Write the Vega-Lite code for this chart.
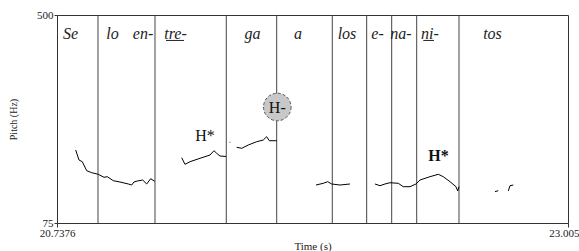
{
  "$schema": "https://vega.github.io/schema/vega-lite/v6.json",
  "width": 511,
  "height": 208,
  "autosize": {"type": "none"},
  "padding": {"left": 57, "top": 15, "right": 11, "bottom": 28},
  "background": "white",
  "config": {
    "view": {"stroke": "#333333", "strokeWidth": 1},
    "font": "Liberation Serif",
    "axis": {"grid": false, "domain": false, "labelFont": "Liberation Serif", "titleFont": "Liberation Serif", "titleFontWeight": "normal", "labelColor": "#222", "titleColor": "#222", "tickColor": "#333"}
  },
  "datasets": {
    "pitch": [
      {"seg": 1, "t": 20.8206, "hz": 224.1},
      {"seg": 1, "t": 20.8352, "hz": 203.7},
      {"seg": 1, "t": 20.8499, "hz": 200.2},
      {"seg": 1, "t": 20.8694, "hz": 181.8},
      {"seg": 1, "t": 20.8916, "hz": 177.8},
      {"seg": 1, "t": 20.9208, "hz": 174.5},
      {"seg": 1, "t": 20.9461, "hz": 168.4},
      {"seg": 1, "t": 20.9608, "hz": 169.6},
      {"seg": 1, "t": 20.9874, "hz": 161.4},
      {"seg": 1, "t": 21.0171, "hz": 158.8},
      {"seg": 1, "t": 21.054, "hz": 154.7},
      {"seg": 1, "t": 21.069, "hz": 152.6},
      {"seg": 1, "t": 21.0792, "hz": 158.8},
      {"seg": 1, "t": 21.0939, "hz": 160.8},
      {"seg": 1, "t": 21.1179, "hz": 162.8},
      {"seg": 1, "t": 21.1356, "hz": 154.7},
      {"seg": 1, "t": 21.1533, "hz": 165.5},
      {"seg": 1, "t": 21.1711, "hz": 160.2},
      {"seg": 2, "t": 21.2909, "hz": 208.4},
      {"seg": 2, "t": 21.3055, "hz": 194.9},
      {"seg": 2, "t": 21.3277, "hz": 200.2},
      {"seg": 2, "t": 21.3721, "hz": 207.2},
      {"seg": 2, "t": 21.4165, "hz": 213.9},
      {"seg": 2, "t": 21.4342, "hz": 222.7},
      {"seg": 2, "t": 21.4462, "hz": 217.4},
      {"seg": 2, "t": 21.4608, "hz": 211.9},
      {"seg": 2, "t": 21.4875, "hz": 210.9},
      {"seg": 3, "t": 21.5035, "hz": 239.9},
      {"seg": 3, "t": 21.5065, "hz": 239.9},
      {"seg": 4, "t": 21.5349, "hz": 229.7},
      {"seg": 4, "t": 21.5571, "hz": 227.6},
      {"seg": 4, "t": 21.5864, "hz": 234.4},
      {"seg": 4, "t": 21.6237, "hz": 241.1},
      {"seg": 4, "t": 21.6529, "hz": 244.6},
      {"seg": 4, "t": 21.668, "hz": 251.3},
      {"seg": 4, "t": 21.6796, "hz": 243.1},
      {"seg": 4, "t": 21.7124, "hz": 243.1},
      {"seg": 5, "t": 21.8868, "hz": 152.6},
      {"seg": 5, "t": 21.9192, "hz": 156.1},
      {"seg": 5, "t": 21.9387, "hz": 159.4},
      {"seg": 5, "t": 21.9565, "hz": 154.7},
      {"seg": 5, "t": 21.9933, "hz": 152.6},
      {"seg": 5, "t": 22.0376, "hz": 154.7},
      {"seg": 6, "t": 22.1486, "hz": 154.7},
      {"seg": 6, "t": 22.1708, "hz": 151.2},
      {"seg": 6, "t": 22.1929, "hz": 154.7},
      {"seg": 6, "t": 22.2151, "hz": 157.3},
      {"seg": 6, "t": 22.252, "hz": 156.1},
      {"seg": 6, "t": 22.2741, "hz": 149.2},
      {"seg": 6, "t": 22.3039, "hz": 149.2},
      {"seg": 6, "t": 22.3305, "hz": 154.7},
      {"seg": 6, "t": 22.3482, "hz": 162.8},
      {"seg": 6, "t": 22.3926, "hz": 169.6},
      {"seg": 6, "t": 22.4294, "hz": 174.5},
      {"seg": 6, "t": 22.4516, "hz": 169.6},
      {"seg": 6, "t": 22.4813, "hz": 159.4},
      {"seg": 6, "t": 22.508, "hz": 149.2},
      {"seg": 6, "t": 22.5155, "hz": 140.4},
      {"seg": 6, "t": 22.5213, "hz": 149.2},
      {"seg": 7, "t": 22.681, "hz": 139.0},
      {"seg": 7, "t": 22.6956, "hz": 141.0},
      {"seg": 8, "t": 22.74, "hz": 140.4},
      {"seg": 8, "t": 22.7476, "hz": 151.2},
      {"seg": 8, "t": 22.7622, "hz": 152.6}
    ],
    "bounds": [
      {"t": 20.9195}, {"t": 21.1724}, {"t": 21.4888}, {"t": 21.7124},
      {"t": 21.9591}, {"t": 22.1117}, {"t": 22.2227}, {"t": 22.3336}, {"t": 22.5213}
    ],
    "sylls": [
      {"label": "Se", "t": 20.7975},
      {"label": "lo", "t": 20.9839},
      {"label": "en-", "t": 21.1192},
      {"label": "tre-", "t": 21.2634},
      {"label": "ga", "t": 21.605},
      {"label": "a", "t": 21.8069},
      {"label": "los", "t": 22.0243},
      {"label": "e-", "t": 22.1597},
      {"label": "na-", "t": 22.2639},
      {"label": "ni-", "t": 22.3926},
      {"label": "tos", "t": 22.6699}
    ],
    "underlines": [
      {"t1": 21.2212, "t2": 21.3011},
      {"t1": 22.3629, "t2": 22.4103}
    ]
  },
  "layer": [
    {
      "data": {"name": "bounds"},
      "mark": {"type": "rule", "color": "#444444", "strokeWidth": 1},
      "encoding": {
        "x": {"field": "t", "type": "quantitative", "scale": {"domain": [20.7376, 23.005], "nice": false, "zero": false},
          "axis": {"values": [20.7376, 23.005], "labelExpr": "datum.value > 23 ? '23.005' : '20.7376'", "labelFlush": false,
            "labelAlign": {"condition": {"test": "datum.value > 23", "value": "right"}, "value": "center"},
            "labelOffset": {"condition": {"test": "datum.value > 23", "value": 11}, "value": 0},
            "labelFont": "Liberation Serif", "labelFontSize": 11, "tickSize": 4, "labelPadding": 0, "title": "Time (s)", "titleFont": "Liberation Serif", "titleFontSize": 11, "titleBaseline": "alphabetic", "titleY": 26}},
        "y": {"datum": 75, "type": "quantitative", "scale": {"domain": [75, 500], "nice": false, "zero": false},
          "axis": {"values": [75, 500], "labelFont": "Liberation Serif", "labelFontSize": 11, "tickSize": 3, "labelPadding": 1, "title": "Pitch (Hz)", "titleFont": "Liberation Serif", "titleFontSize": 10, "titlePadding": 18}},
        "y2": {"datum": 500}
      }
    },
    {
      "data": {"name": "pitch"},
      "mark": {"type": "line", "color": "black", "strokeWidth": 1},
      "encoding": {
        "x": {"field": "t", "type": "quantitative"},
        "y": {"field": "hz", "type": "quantitative"},
        "detail": {"field": "seg", "type": "nominal"}
      }
    },
    {
      "data": {"name": "sylls"},
      "mark": {"type": "text", "font": "Liberation Serif", "fontStyle": "italic", "fontSize": 16, "color": "#222", "baseline": "middle", "align": "center"},
      "encoding": {
        "x": {"field": "t", "type": "quantitative"},
        "y": {"datum": 462},
        "text": {"field": "label"}
      }
    },
    {
      "data": {"name": "underlines"},
      "mark": {"type": "rule", "color": "#222", "strokeWidth": 1},
      "encoding": {
        "x": {"field": "t1", "type": "quantitative"},
        "x2": {"field": "t2"},
        "y": {"datum": 448}
      }
    },
    {
      "data": {"values": [{"label": "H-", "t": 21.7151, "hz": 312}]},
      "layer": [
        {
          "mark": {"type": "point", "shape": "circle", "filled": true, "fill": "#c8c8c8", "stroke": "#555555", "strokeWidth": 1, "strokeDash": [3, 2], "size": 760, "opacity": 1},
          "encoding": {
            "x": {"field": "t", "type": "quantitative"},
            "y": {"field": "hz", "type": "quantitative"}
          }
        },
        {
          "mark": {"type": "text", "font": "Liberation Serif", "fontSize": 16, "color": "#111", "baseline": "middle", "align": "center", "dy": 1},
          "encoding": {
            "x": {"field": "t", "type": "quantitative"},
            "y": {"field": "hz", "type": "quantitative"},
            "text": {"field": "label"}
          }
        }
      ]
    },
    {
      "data": {"values": [{"label": "H*", "t": 21.3943, "hz": 252.7}]},
      "mark": {"type": "text", "font": "Liberation Serif", "fontSize": 16, "color": "#111", "baseline": "middle", "align": "center"},
      "encoding": {
        "x": {"field": "t", "type": "quantitative"},
        "y": {"field": "hz", "type": "quantitative"},
        "text": {"field": "label"}
      }
    },
    {
      "data": {"values": [{"label": "H*", "t": 22.4303, "hz": 211.9}]},
      "mark": {"type": "text", "font": "Liberation Serif", "fontSize": 16, "fontWeight": "bold", "color": "#111", "baseline": "middle", "align": "center"},
      "encoding": {
        "x": {"field": "t", "type": "quantitative"},
        "y": {"field": "hz", "type": "quantitative"},
        "text": {"field": "label"}
      }
    }
  ]
}
